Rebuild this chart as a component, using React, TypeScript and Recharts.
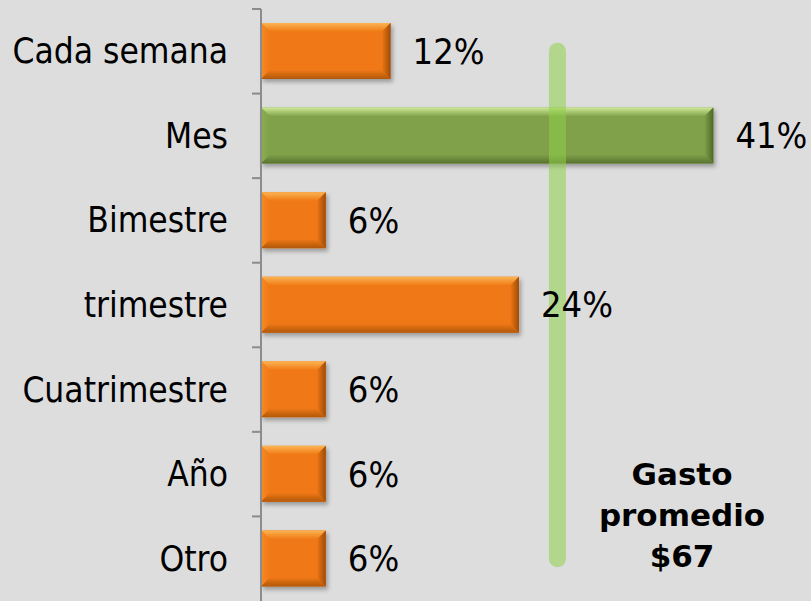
import { BarChart, Bar, XAxis, YAxis, LabelList, ReferenceLine } from 'recharts';

// respuestas: 2, 7, 1, 4, 1, 1, 1 de 17
const periodos = ['Cada semana', 'Mes', 'Bimestre', 'trimestre', 'Cuatrimestre', 'Año', 'Otro'];
const porcentajes = [11.8, 41.2, 5.9, 23.5, 5.9, 5.9, 5.9];
const destacado = 'Mes';
const gastoPromedio = ['Gasto', 'promedio', '$67'];
const lineaGasto = 27;

const data = periodos.map((periodo, i) => ({ periodo, valor: porcentajes[i] }));

const W = 811;
const H = 601;
const TOP = 9;
const AXIS_W = 261;
const BAND = (H - TOP) / periodos.length;
const FONT = '"DejaVu Sans Condensed", "DejaVu Sans", sans-serif';

const PALETAS = {
  naranja: { base: '#f07814', light: '#fbb452', side: '#f48a28', dark: '#b0580c', edge: '#9c4c08' },
  verde: { base: '#80a048', light: '#cdea96', side: '#8aae52', dark: '#58722e', edge: '#4e6828' },
};

function Gradientes() {
  return (
    <>
      {Object.entries(PALETAS).map(([k, c]) => (
        <g key={k}>
          <linearGradient id={`${k}-top`} x1="0" y1="0" x2="0" y2="1">
            <stop offset="0" stopColor={c.light} />
            <stop offset="1" stopColor={c.base} />
          </linearGradient>
          <linearGradient id={`${k}-btm`} x1="0" y1="0" x2="0" y2="1">
            <stop offset="0" stopColor={c.base} />
            <stop offset="1" stopColor={c.dark} />
          </linearGradient>
          <linearGradient id={`${k}-der`} x1="0" y1="0" x2="1" y2="0">
            <stop offset="0" stopColor={c.base} />
            <stop offset="1" stopColor={c.edge} />
          </linearGradient>
          <linearGradient id={`${k}-izq`} x1="0" y1="0" x2="1" y2="0">
            <stop offset="0" stopColor={c.side} />
            <stop offset="1" stopColor={c.base} />
          </linearGradient>
        </g>
      ))}
    </>
  );
}

function BevelBar(props) {
  const { x, y, width, height, payload } = props;
  if (!width || width <= 0) return null;
  const k = payload.periodo === destacado ? 'verde' : 'naranja';
  const c = PALETAS[k];
  const b = Math.min(9, width / 4, height / 4);
  const r = x + width;
  const btm = y + height;
  return (
    <g filter="url(#sombra)">
      <rect x={x} y={y} width={width} height={height} fill={c.base} />
      <polygon points={`${x},${y} ${r},${y} ${r - b},${y + b} ${x + b},${y + b}`} fill={`url(#${k}-top)`} />
      <polygon points={`${x},${y} ${x + b},${y + b} ${x + b},${btm - b} ${x},${btm}`} fill={`url(#${k}-izq)`} />
      <polygon points={`${r},${y} ${r - b},${y + b} ${r - b},${btm - b} ${r},${btm}`} fill={`url(#${k}-der)`} />
      <polygon points={`${x},${btm} ${r},${btm} ${r - b},${btm - b} ${x + b},${btm - b}`} fill={`url(#${k}-btm)`} />
    </g>
  );
}

function PeriodoTick(props) {
  const { x, y, payload } = props;
  const yb = y - BAND / 2;
  return (
    <g>
      <line x1={AXIS_W - 9} x2={AXIS_W} y1={yb} y2={yb} stroke="#8c8c8c" strokeWidth={2} />
      <text x={x} y={y} dy={12} textAnchor="end" fontSize={35} fontFamily={FONT} fill="#000">
        {payload.value}
      </text>
    </g>
  );
}

export default function App() {
  return (
    <div style={{ position: 'absolute', left: 0, top: 0, width: W, height: H, background: '#dddddd' }}>
      <BarChart
        width={W}
        height={H}
        data={data}
        layout="vertical"
        margin={{ top: TOP, right: 1, bottom: 0, left: 0 }}
      >
        <defs>
          <Gradientes />
          <filter id="sombra" x="-5%" y="-20%" width="115%" height="150%">
            <feDropShadow dx="2" dy="3" stdDeviation="2" floodColor="#000" floodOpacity="0.3" />
          </filter>
        </defs>
        <XAxis type="number" domain={[0, 50]} hide />
        <YAxis
          type="category"
          dataKey="periodo"
          width={AXIS_W}
          tickLine={false}
          tickSize={9}
          tickMargin={24}
          axisLine={{ stroke: '#8c8c8c', strokeWidth: 2 }}
          tick={<PeriodoTick />}
          interval={0}
        />
        <Bar dataKey="valor" barSize={56} shape={<BevelBar />} isAnimationActive={false}>
          <LabelList
            dataKey="valor"
            position="right"
            offset={22}
            formatter={(v) => `${Math.round(v)}%`}
            style={{ fontSize: 36, fontFamily: FONT, fill: '#000' }}
          />
        </Bar>
        <ReferenceLine
          segment={[
            { x: lineaGasto, y: periodos[0] },
            { x: lineaGasto, y: periodos[periodos.length - 1] },
          ]}
          stroke="#8ecf48"
          strokeOpacity={0.55}
          strokeWidth={17}
          strokeLinecap="round"
        />
      </BarChart>
      <div
        style={{
          position: 'absolute',
          left: 582,
          top: 454,
          width: 200,
          textAlign: 'center',
          fontFamily: '"DejaVu Sans", sans-serif',
          fontWeight: 'bold',
          fontSize: 31,
          lineHeight: '41px',
          color: '#000',
        }}
      >
        {gastoPromedio.map((t) => (
          <div key={t}>{t}</div>
        ))}
      </div>
    </div>
  );
}
